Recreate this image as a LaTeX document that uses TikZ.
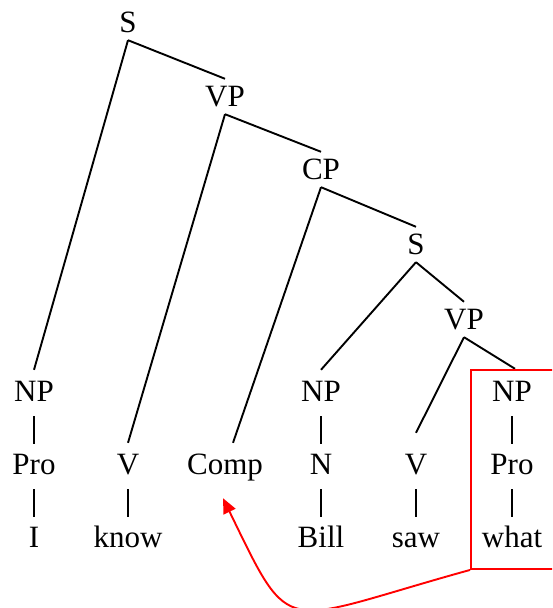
\documentclass[tikz,border=0pt]{standalone}
\usepackage{fontspec}
\setmainfont{Liberation Serif}
\usepackage{tikz}
\usetikzlibrary{arrows.meta}
\tikzstyle{cat}    = [inner xsep=0pt, inner ysep=7pt, anchor=base,
                      text height=21pt, text depth=0pt,
                      font=\fontsize{31}{36}\selectfont]
\tikzstyle{branch} = [line width=1.9pt]
\tikzstyle{unary}  = [line width=1.1pt, shorten <=7pt, shorten >=3pt]
\tikzstyle{redbox} = [draw=red, line width=1.9pt, inner sep=0pt]
\tikzstyle{move}   = [draw=red, line width=1.9pt,
                      -{Triangle[length=15pt, width=13pt]}]

\begin{document}
\begin{tikzpicture}[x=1pt, y=1pt]

  \clip (0,0) rectangle (552,608);

  % inner nodes
  \node[cat] (s0)  at (128,575) {S};
  \node[cat] (vp0) at (225,501) {VP};
  \node[cat] (cp)  at (321,428) {CP};
  \node[cat] (s1)  at (416,353) {S};
  \node[cat] (vp1) at (464,278) {VP};

  % phrase row
  \node[cat] (np1) at (34,206)  {NP};
  \node[cat] (np2) at (321,206) {NP};
  \node[cat] (np3) at (512,206) {NP};

  % category row
  \node[cat] (pro1) at (34,133)  {Pro};
  \node[cat] (v1)   at (128,133) {V};
  \node[cat] (comp) at (225,133) {Comp};
  \node[cat] (n1)   at (321,133) {N};
  \node[cat] (v2)   at (416,133) {V};
  \node[cat] (pro2) at (512,133) {Pro};

  % words
  \node[cat] (w1) at (34,60)  {I};
  \node[cat] (w2) at (128,60) {know};
  \node[cat] (w3) at (321,60) {Bill};
  \node[cat] (w4) at (416,60) {saw};
  \node[cat] (w5) at (512,60) {what};

  \draw[branch] (s0.south) -- ([yshift=4pt]np1.north);
  \draw[branch] (s0.south) -- (vp0.north);
  \draw[branch] (vp0.south) -- ([yshift=4pt]v1.north);
  \draw[branch] (vp0.south) -- (cp.north);
  \draw[branch] (cp.south) -- ([xshift=8pt, yshift=4pt]comp.north);
  \draw[branch] (cp.south) -- (s1.north);
  \draw[branch] (s1.south) -- ([yshift=4pt]np2.north);
  \draw[branch] (s1.south) -- (vp1.north);
  \draw[branch] (vp1.south) -- ([yshift=14pt]v2.north);
  \draw[branch] (vp1.south) -- ([xshift=3pt, yshift=5pt]np3.north);

  \draw[unary] (np1) -- (pro1);  \draw[unary] (pro1) -- (w1);
  \draw[unary] (v1) -- (w2);
  \draw[unary] (np2) -- (n1);    \draw[unary] (n1) -- (w3);
  \draw[unary] (v2) -- (w4);
  \draw[unary] (np3) -- (pro2);  \draw[unary] (pro2) -- (w5);

  % moved constituent
  \node[redbox, minimum width=85pt, minimum height=199pt] (box)
      at (513.5,138.5) {};
  \draw[move] (box.south west) .. controls (278,-15) and (293,-34)
      .. ([xshift=-2pt, yshift=-16pt]comp.south);

\end{tikzpicture}
\end{document}
